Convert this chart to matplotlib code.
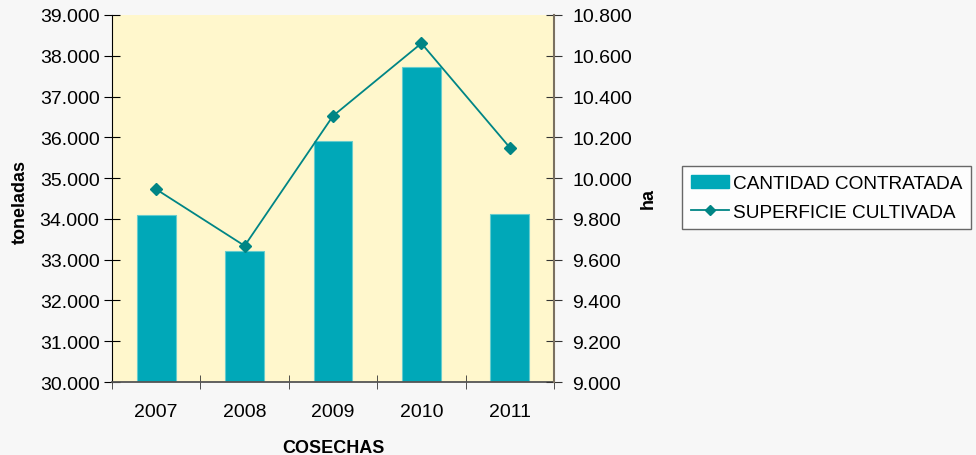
import matplotlib
matplotlib.use("Agg")
import matplotlib.pyplot as plt
from matplotlib.ticker import FuncFormatter
from matplotlib.lines import Line2D
from matplotlib.patches import Patch

plt.rcParams['font.family'] = ['Liberation Sans', 'DejaVu Sans']

years = ["2007", "2008", "2009", "2010", "2011"]
cantidad = [34090, 33220, 35910, 37730, 34130]
superficie = [9945, 9668, 10305, 10661, 10150]

fig = plt.figure(figsize=(9.76, 4.56), dpi=100, facecolor="#F7F7F7")
ax = fig.add_axes([0.1148, 0.160, 0.4528, 0.805])
ax.set_facecolor("#FFF7CC")
x = list(range(len(years)))
ax.bar(x, [c - 30000 for c in cantidad], bottom=30000, width=0.44,
       color="#00A8B8", edgecolor="#66CCCC", linewidth=0.8, zorder=2)
ax.set_xlim(-0.5, 4.5)
ax.set_ylim(30000, 39000)
ax.set_yticks(range(30000, 39001, 1000))
fmt = lambda v, p: f"{int(v):,}".replace(",", ".")
ax.yaxis.set_major_formatter(FuncFormatter(fmt))
ax.set_xticks(x)
ax.set_xticklabels(years)
ax.set_xticks([i - 0.5 for i in range(6)], minor=True)
ax.tick_params(axis='x', which='major', length=0, labelsize=14, pad=15)
ax.tick_params(axis='x', which='minor', direction='inout', length=10, color="#333333")
ax.tick_params(axis='y', direction='inout', length=12, labelsize=14, pad=3)

ax2 = ax.twinx()
ax2.plot(x, superficie, color="#008585", marker="D", markersize=6, linewidth=1.3, zorder=3)
ax2.set_ylim(9000, 10800)
ax2.set_yticks(range(9000, 10801, 200))
ax2.yaxis.set_major_formatter(FuncFormatter(fmt))
ax2.tick_params(axis='y', direction='inout', length=12, labelsize=14, pad=7, color="#333333")

for a in (ax, ax2):
    a.spines['top'].set_visible(False)
ax.spines['left'].set_color("black")
ax2.spines['right'].set_color("#7A7060")
ax2.spines['right'].set_linewidth(1.5)
ax.spines['bottom'].set_color("#555555")
ax.spines['bottom'].set_linewidth(1.3)
ax.spines['right'].set_visible(False)
ax2.spines['left'].set_visible(False)
ax2.spines['bottom'].set_visible(False)

fig.text(20/976, 1 - 202/456, "toneladas", rotation=90, fontsize=13, fontweight='bold',
         ha='center', va='center')
fig.text(648/976, 1 - 199/456, "ha", rotation=90, fontsize=13, fontweight='bold',
         ha='center', va='center')
ax.set_xlabel("COSECHAS", fontsize=13, fontweight='bold', labelpad=14)

handles = [Patch(facecolor="#00A8B8", edgecolor="#00A8B8"),
           Line2D([0], [0], color="#008585", marker="D", markersize=5, linewidth=1.3)]
leg = fig.legend(handles, ["CANTIDAD CONTRATADA", "SUPERFICIE CULTIVADA"],
                 loc="upper left", bbox_to_anchor=(682/976, 1 - 167/456),
                 fontsize=13.7, frameon=True, fancybox=False, edgecolor="#444444",
                 handlelength=2.0, handletextpad=0.25, borderpad=0.45, labelspacing=0.6,
                 borderaxespad=0)
leg.get_frame().set_linewidth(1.0)
leg.get_frame().set_facecolor("white")

fig.savefig("out.png", dpi=100, facecolor=fig.get_facecolor())
